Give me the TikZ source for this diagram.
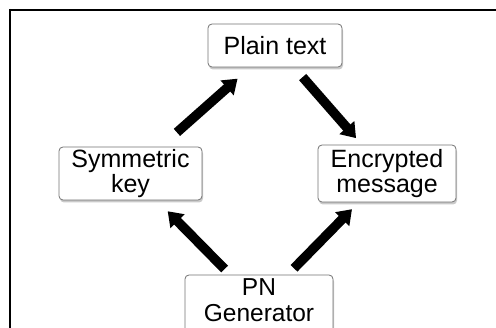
\documentclass[tikz,border=0pt]{standalone}
\usepackage{fontspec}
\setmainfont{Liberation Sans}
\usetikzlibrary{arrows.meta,shadows}

\tikzset{
  box/.style={draw=black!55, line width=0.8pt, fill=white, rounded corners=4pt,
    drop shadow={shadow xshift=1pt, shadow yshift=-2.5pt, opacity=0.35, fill=black!60},
    inner sep=0pt, align=center,
    font=\fontsize{25}{25}\selectfont},
  label text/.style={font=\fontsize{24.5}{25.5}\selectfont, align=center, inner sep=0pt},
  flow/.style={line width=9.5pt, -{Triangle[width=19pt,length=14pt]}},
  frameline/.style={line width=2pt}
}

\begin{document}
\begin{tikzpicture}[x=1pt, y=-1pt]
  \useasboundingbox (0,0) rectangle (496,328);
  \clip (0,0) rectangle (496,328);

  % frame lines along the top and left edges
  \draw[frameline] (10,10) -- (497,10);
  \draw[frameline] (10,9) -- (10,330);

  % the four stages
  \node[box, minimum width=134pt, minimum height=43pt] (plain) at (275,45.5) {Plain text};
  \node[box, minimum width=143pt, minimum height=53pt] (sym) at (130.5,173.5) {Symmetric\\key};
  \node[box, minimum width=138pt, minimum height=57pt] (enc) at (387,173.5) {Encrypted\\message};
  \node[box, minimum width=148pt, minimum height=58pt] (pn) at (259,304) {};
  \node[label text] (pnlabel) at (259,300) {PN\\Generator};

  % flow between stages
  \draw[flow, shorten <=62pt, shorten >=50pt] (sym.center) -- (plain.center);
  \draw[flow, shorten <=42pt, shorten >=47pt] (plain.center) -- (enc.center);
  \draw[flow, shorten <=49pt, shorten >=53pt] (pn.center) -- (sym.center);
  \draw[flow, shorten <=50pt, shorten >=50pt] (pn.center) -- (enc.center);
\end{tikzpicture}
\end{document}
